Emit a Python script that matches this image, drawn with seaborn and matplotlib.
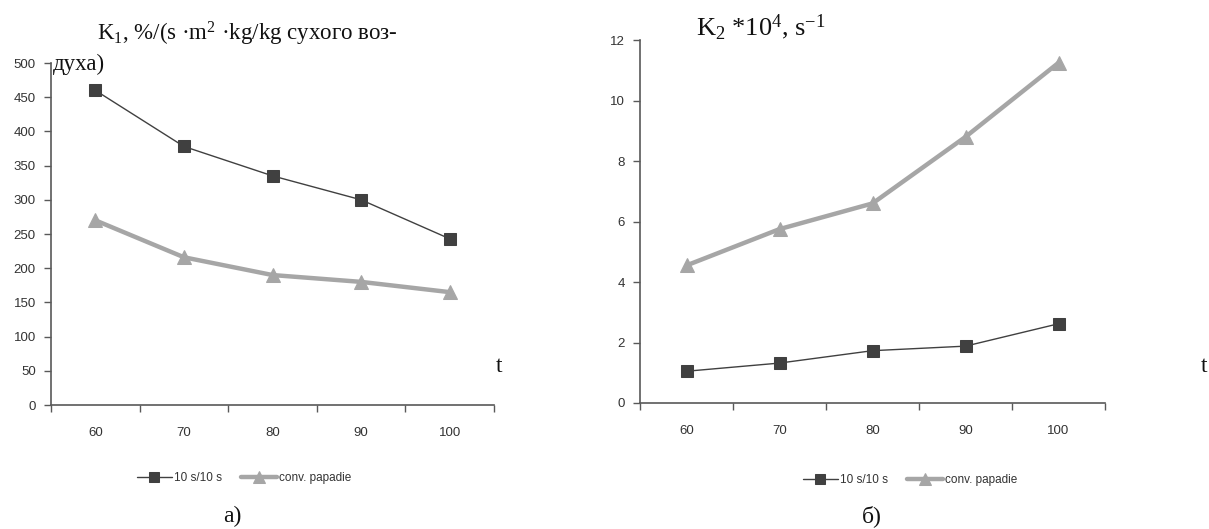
import matplotlib
matplotlib.use("Agg")
import matplotlib.pyplot as plt
import seaborn as sns
import pandas as pd

temps = ["60", "70", "80", "90", "100"]
k1_10s = [460, 378, 335, 300, 243]
k1_conv = [270, 216, 190, 180, 165]
k2_10s = [1.05, 1.32, 1.73, 1.88, 2.62]
k2_conv = [4.55, 5.75, 6.6, 8.8, 11.25]
series_names = ["10 s/10 s", "conv. papadie"]
k1_yticks = [0, 50, 100, 150, 200, 250, 300, 350, 400, 450, 500]
k2_yticks = [0, 2, 4, 6, 8, 10, 12]

sns.set_theme(style="white")
plt.rcParams["font.family"] = ["Liberation Sans", "DejaVu Sans"]
plt.rcParams["mathtext.fontset"] = "custom"
plt.rcParams["mathtext.rm"] = "Liberation Serif"
plt.rcParams["mathtext.it"] = "Liberation Serif:italic"

W, H = 1209, 529
fig = plt.figure(figsize=(12.09, 5.29), dpi=100)
axL = fig.add_axes([0.0422, 0.2344, 0.3664, 0.6465])
axR = fig.add_axes([0.5294, 0.2382, 0.3846, 0.686])

dark = "#404040"
grey = "#a6a6a6"
spine_c = "#595959"


def draw(ax, y1, y2, yticks, leg_center):
    df1 = pd.DataFrame({"t": temps, "v": y1})
    df2 = pd.DataFrame({"t": temps, "v": y2})
    sns.lineplot(data=df1, x="t", y="v", ax=ax, color=dark, lw=1.0,
                 marker="s", markersize=8, markeredgecolor=dark,
                 label=series_names[0], sort=False)
    sns.lineplot(data=df2, x="t", y="v", ax=ax, color=grey, lw=3.2,
                 marker="^", markersize=10, markeredgecolor=grey,
                 label=series_names[1], sort=False)
    n = len(temps)
    ax.set_xlim(-0.5, n - 0.5)
    ax.set_ylim(yticks[0], yticks[-1])
    ax.set_yticks(yticks)
    ax.set_xticks([i - 0.5 for i in range(n + 1)])
    ax.set_xticklabels([])
    ax.set_xticks(range(n), minor=True)
    ax.set_xticklabels(temps, minor=True)
    ax.tick_params(axis="x", which="major", length=5, width=1, color=spine_c,
                   direction="out", bottom=True)
    ax.tick_params(axis="x", which="minor", length=0, pad=16, labelsize=9.5,
                   labelcolor="#333333", bottom=True)
    ax.tick_params(axis="y", length=5, width=1, color=spine_c, direction="out",
                   left=True, labelsize=9.5, labelcolor="#333333", pad=6)
    ax.set_xlabel("")
    ax.set_ylabel("")
    for s in ["top", "right"]:
        ax.spines[s].set_visible(False)
    for s in ["left", "bottom"]:
        ax.spines[s].set_color(spine_c)
        ax.spines[s].set_linewidth(1.2)
    ax.grid(False)
    leg = ax.legend(loc="center", bbox_to_anchor=leg_center,
                    bbox_transform=fig.transFigure, ncol=2,
                    frameon=False, fontsize=8.5, handlelength=3.0,
                    columnspacing=1.6, handletextpad=0.2, markerscale=0.9)
    for t in leg.get_texts():
        t.set_color("#333333")


draw(axL, k1_10s, k1_conv, k1_yticks, (244 / W, 1 - 478 / H))
draw(axR, k2_10s, k2_conv, k2_yticks, (910 / W, 1 - 480 / H))

serif = ["Liberation Serif", "DejaVu Serif"]
ts = 16.5
fig.text(97 / W, 1 - 40 / H, r"K$_1$, %/(s ·m$^2$ ·kg/kg сухого воз-",
         family=serif, fontsize=ts, color="#111111", va="baseline")
fig.text(53 / W, 1 - 70 / H, "духа)", family=serif, fontsize=ts,
         color="#111111", va="baseline")
fig.text(696 / W, 1 - 35 / H, r"K$_2$ *10$^4$, s$^{\mathrm{-1}}$", family=serif,
         fontsize=19, color="#111111", va="baseline")
fig.text(496 / W, 1 - 372 / H, "t", family=serif, fontsize=17,
         color="#111111", va="baseline")
fig.text(1201 / W, 1 - 372 / H, "t", family=serif, fontsize=17,
         color="#111111", va="baseline")
fig.text(232 / W, 1 - 522 / H, "а)", family=serif, fontsize=17,
         color="#111111", va="baseline", ha="center")
fig.text(872 / W, 1 - 522 / H, "б)", family=serif, fontsize=17,
         color="#111111", va="baseline", ha="center")

fig.savefig("out.png", dpi=100)
